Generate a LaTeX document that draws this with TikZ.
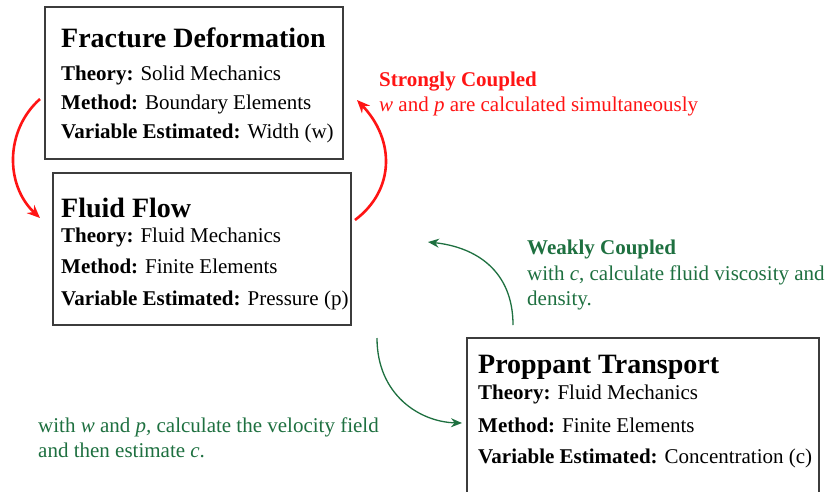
\documentclass[tikz,border=0pt]{standalone}
\usepackage{fontspec}
\setmainfont{Liberation Serif}
\usetikzlibrary{arrows.meta}
\definecolor{cred}{RGB}{255,20,20}
\definecolor{cgreen}{RGB}{30,112,64}
\definecolor{cbox}{RGB}{60,60,60}
\begin{document}
\begin{tikzpicture}[x=1pt,y=-1pt,
  panel/.style={draw=cbox,line width=1.3pt,fill=none},
  ttl/.style={anchor=base west,inner sep=0pt,font=\fontsize{28}{32}\selectfont\bfseries},
  txt/.style={anchor=base west,inner sep=0pt,font=\fontsize{21}{25}\selectfont},
  redarrow/.style={draw=cred,line width=2.6pt,-{Stealth[length=13pt,width=11pt]}},
  greenarrow/.style={draw=cgreen,line width=1.3pt,-{Stealth[length=11pt,width=9pt]}}]
\useasboundingbox (0,0) rectangle (829,491);
\fill[white] (0,0) rectangle (829,491);
% boxes
\draw[panel] (45,7) rectangle (343,159);
\draw[panel] (53,173) rectangle (351,325);
\draw[panel] (467,338) rectangle (819,494);
% box 1 text
\node[ttl] (t1) at (61,47) {Fracture Deformation};
\node[txt] (t1a) at (61,80) {\textbf{Theory:} Solid Mechanics};
\node[txt] (t1b) at (61,109) {\textbf{Method:} Boundary Elements};
\node[txt] (t1c) at (61,138) {\textbf{Variable Estimated:} Width (w)};
% box 2 text
\node[ttl] (t2) at (61,217) {Fluid Flow};
\node[txt] (t2a) at (61,242) {\textbf{Theory:} Fluid Mechanics};
\node[txt] (t2b) at (61,273) {\textbf{Method:} Finite Elements};
\node[txt] (t2c) at (61,305) {\textbf{Variable Estimated:} Pressure (p)};
% box 3 text
\node[ttl] (t3) at (478,373) {Proppant Transport};
\node[txt] (t3a) at (478,399) {\textbf{Theory:} Fluid Mechanics};
\node[txt] (t3b) at (478,432) {\textbf{Method:} Finite Elements};
\node[txt] (t3c) at (478,463) {\textbf{Variable Estimated:} Concentration (c)};
% labels
\node[txt,text=cred] (s1) at (379,86) {\textbf{Strongly Coupled}};
\node[txt,text=cred] (s2) at (379,111) {\textit{w} and \textit{p} are calculated simultaneously};
\node[txt,text=cgreen] (w1) at (527,254) {\textbf{Weakly Coupled}};
\node[txt,text=cgreen] (w2) at (527,280) {with \textit{c}, calculate fluid viscosity and};
\node[txt,text=cgreen] (w3) at (527,305) {density.};
\node[txt,text=cgreen] (g1) at (38,432) {with \textit{w} and \textit{p,} calculate the velocity field};
\node[txt,text=cgreen] (g2) at (38,457) {and then estimate \textit{c}.};
% arrow end points
\coordinate (r1s) at (40,99);
\coordinate (r1e) at (40,218);
\coordinate (r2s) at (355,220);
\coordinate (r2e) at (357,100);
\coordinate (g1s) at (513,325);
\coordinate (g1e) at (428,242);
\coordinate (g2s) at (377,338);
\coordinate (g2e) at (462,423);
\draw[redarrow] (r1s) .. controls (5,130) and (5,185) .. (r1e);
\draw[redarrow] (r2s) .. controls (395,190) and (395,140) .. (r2e);
\draw[greenarrow] (g1s) .. controls (513,270) and (475,247) .. (g1e);
\draw[greenarrow] (g2s) .. controls (377,395) and (420,422) .. (g2e);
\end{tikzpicture}
\end{document}
